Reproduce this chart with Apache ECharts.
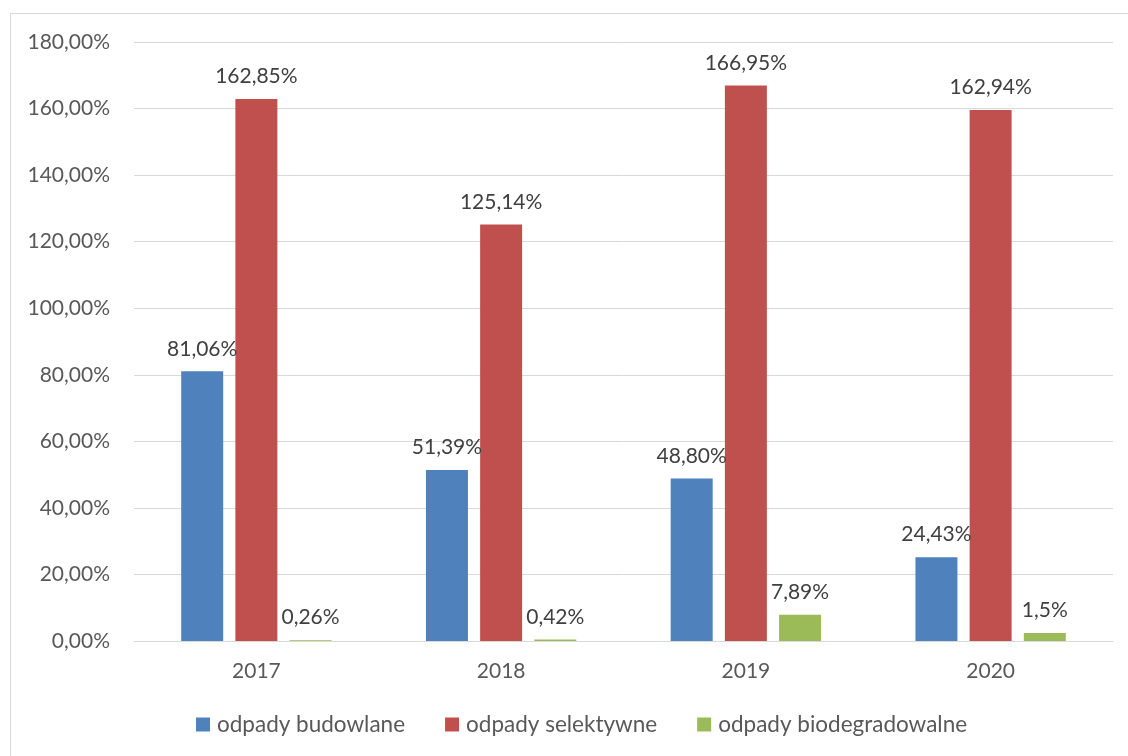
<!DOCTYPE html>
<html><head><meta charset="utf-8">
<script src="https://cdn.jsdelivr.net/npm/echarts@6/dist/echarts.min.js"></script>
<style>
html,body{margin:0;padding:0;background:#fff;}
#frame{position:absolute;left:10px;top:13px;width:1140px;height:760px;border:1px solid #d9d9d9;box-sizing:border-box;}
#c{position:absolute;left:0;top:0;width:1128px;height:756px;}
</style></head>
<body>
<div id="frame"></div>
<div id="c"></div>
<script>
const categories = ['2017', '2018', '2019', '2020'];
const seriesNames = ['odpady budowlane', 'odpady selektywne', 'odpady biodegradowalne'];
const budowlane = [81.06, 51.39, 48.80, 25.2];
const selektywne = [162.85, 125.14, 166.95, 159.6];
const biodegradowalne = [0.26, 0.42, 7.89, 2.4];
const budowlaneLabels = ['81,06%', '51,39%', '48,80%', '24,43%'];
const selektywneLabels = ['162,85%', '125,14%', '166,95%', '162,94%'];
const biodegradowalneLabels = ['0,26%', '0,42%', '7,89%', '1,5%'];
const yTicks = [0, 20, 40, 60, 80, 100, 120, 140, 160, 180];

const colors = ['#4F81BD', '#C0504D', '#9BBB59'];
const FONT = 'Lato';
function mk(name, data, labels, color) {
  return {
    name: name, type: 'bar', data: data, barWidth: 42, barGap: '29%',
    itemStyle: { color: color },
    label: {
      show: true, position: 'top', distance: 12,
      color: '#404040', fontFamily: FONT, fontSize: 21,
      formatter: p => labels[p.dataIndex]
    }
  };
}
const chart = echarts.init(document.getElementById('c'));
chart.setOption({
  animation: false,
  color: colors,
  grid: { left: 134, right: 15, top: 42, bottom: 115, containLabel: false },
  legend: {
    bottom: 15, left: 191, itemWidth: 14, itemHeight: 14, itemGap: 40,
    icon: 'rect',
    textStyle: { color: '#595959', fontFamily: FONT, fontSize: 22.5, padding: [0, 0, 0, 2] },
    data: seriesNames
  },
  xAxis: {
    type: 'category', data: categories,
    axisLine: { lineStyle: { color: '#d9d9d9', width: 1 } },
    axisTick: { show: false },
    axisLabel: { color: '#595959', fontFamily: FONT, fontSize: 21, margin: 20 }
  },
  yAxis: {
    type: 'value', min: yTicks[0], max: yTicks[yTicks.length - 1], interval: 20,
    axisLine: { show: false }, axisTick: { show: false },
    splitLine: { lineStyle: { color: '#d9d9d9', width: 1 } },
    axisLabel: {
      color: '#595959', fontFamily: FONT, fontSize: 21, margin: 24,
      formatter: v => v.toFixed(2).replace('.', ',') + '%'
    }
  },
  series: [
    mk(seriesNames[0], budowlane, budowlaneLabels, colors[0]),
    mk(seriesNames[1], selektywne, selektywneLabels, colors[1]),
    mk(seriesNames[2], biodegradowalne, biodegradowalneLabels, colors[2])
  ]
});
</script>
</body></html>
